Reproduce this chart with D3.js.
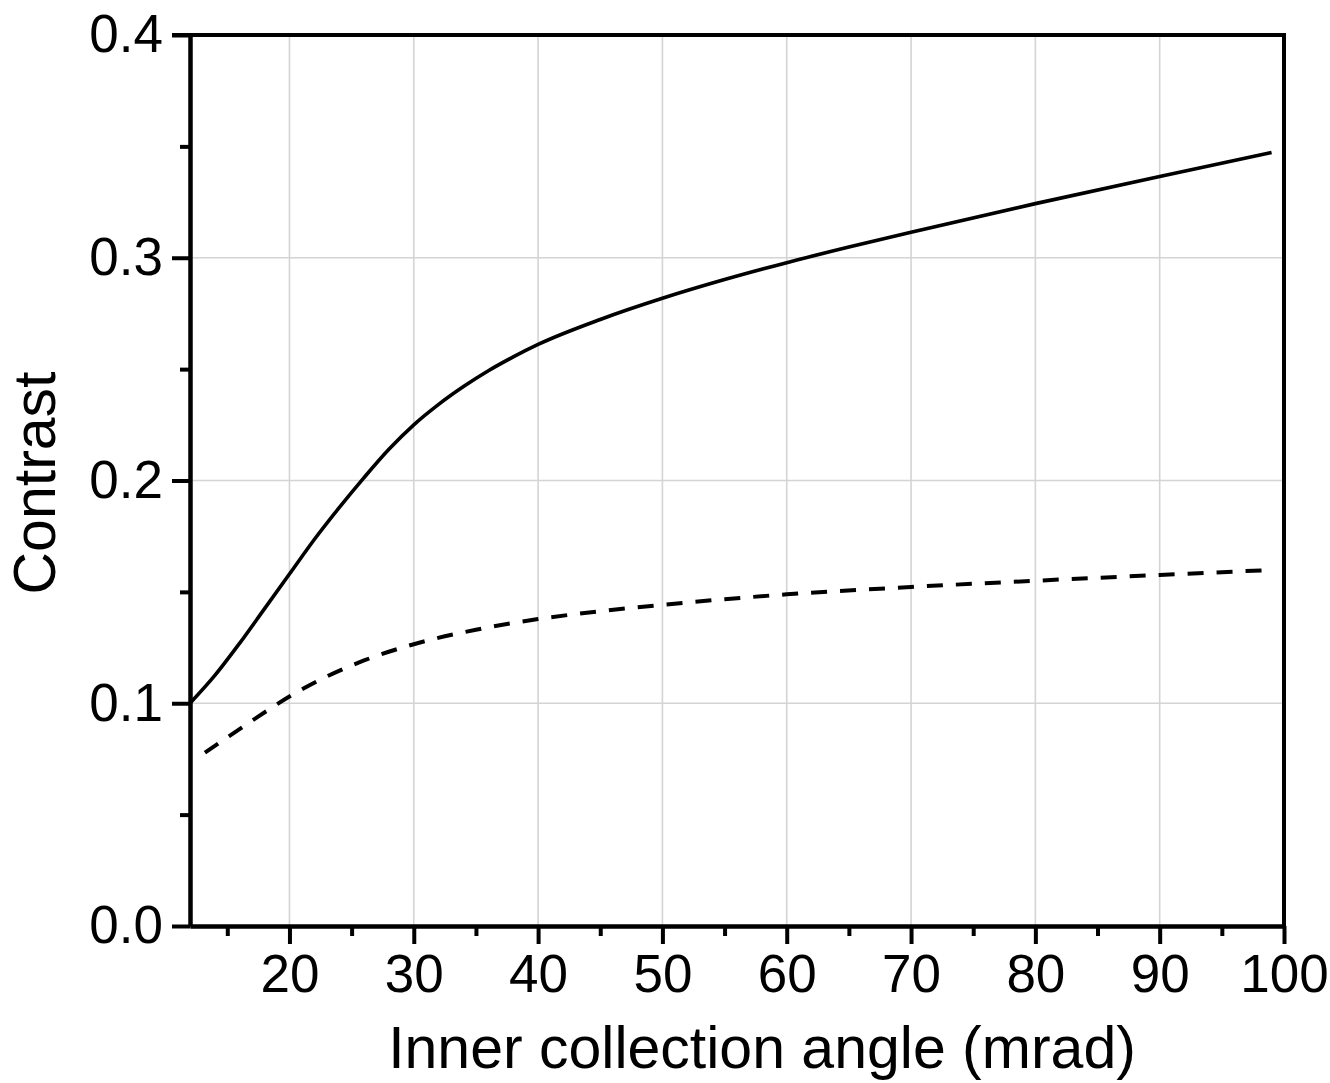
<!DOCTYPE html>
<html><head><meta charset="utf-8">
<script src="https://cdn.jsdelivr.net/npm/d3@7"></script>
<style>body{margin:0;background:#fff}</style>
</head><body>
<script>
const solidX = [12, 14, 16, 18, 20, 22, 24, 26, 28, 30, 32, 34, 36, 38, 40, 45, 50, 55, 60, 65, 70, 80, 90, 99];
const solidY = [0.100, 0.1125, 0.127, 0.1425, 0.158, 0.1735, 0.1878, 0.2013, 0.2140, 0.2250, 0.2342, 0.2422, 0.2493, 0.2555, 0.2611, 0.2723, 0.2818, 0.2902, 0.2978, 0.3048, 0.3115, 0.3243, 0.3365, 0.3472];
const dashX = [13.2, 15, 17, 20, 23, 26, 30, 35, 40, 45, 50, 55, 60, 70, 80, 90, 98.8];
const dashY = [0.0778, 0.0847, 0.0922, 0.1030, 0.1120, 0.1192, 0.1265, 0.1330, 0.1378, 0.1413, 0.1442, 0.1467, 0.1489, 0.1522, 0.1550, 0.1576, 0.1598];
const xTicks = [20, 30, 40, 50, 60, 70, 80, 90, 100];
const xMinor = [15, 25, 35, 45, 55, 65, 75, 85, 95];
const yTicks = [0.0, 0.1, 0.2, 0.3, 0.4];
const yMinor = [0.05, 0.15, 0.25, 0.35];
const xLabel = "Inner collection angle (mrad)";
const yLabel = "Contrast";

const W = 1330, H = 1083;
const L = 190, R = 1284, T = 35, B = 926;
const font = "'Liberation Sans', Arial, sans-serif";

const svg = d3.select("body").append("svg").attr("width", W).attr("height", H);
const x = d3.scaleLinear().domain([12, 100]).range([L, R]);
const y = d3.scaleLinear().domain([0, 0.4]).range([B, T]);

// grid
svg.append("g").selectAll("line").data(xTicks.filter(d => d < 100)).join("line")
  .attr("x1", d => x(d)).attr("x2", d => x(d)).attr("y1", T).attr("y2", B)
  .attr("stroke", "#d4d4d4").attr("stroke-width", 1.6);
svg.append("g").selectAll("line").data(yTicks.filter(d => d > 0 && d < 0.4)).join("line")
  .attr("y1", d => y(d)).attr("y2", d => y(d)).attr("x1", L).attr("x2", R)
  .attr("stroke", "#d4d4d4").attr("stroke-width", 1.6);

// curves
const line = d3.line().x(d => x(d[0])).y(d => y(d[1])).curve(d3.curveMonotoneX);
svg.append("path").datum(solidX.map((v, i) => [v, solidY[i]]))
  .attr("d", line).attr("fill", "none").attr("stroke", "#000").attr("stroke-width", 3.6);
svg.append("path").datum(dashX.map((v, i) => [v, dashY[i]]))
  .attr("d", line).attr("fill", "none").attr("stroke", "#000").attr("stroke-width", 4)
  .attr("stroke-dasharray", "16,13");

// axes
const xAxis = d3.axisBottom(x).tickValues(xTicks).tickSize(18).tickSizeOuter(0).tickPadding(10).tickFormat(d3.format("d"));
const gx = svg.append("g").attr("transform", `translate(0,${B})`).call(xAxis);
const xAxisMinor = d3.axisBottom(x).tickValues(xMinor).tickSize(10).tickSizeOuter(0).tickFormat("");
const gxm = svg.append("g").attr("transform", `translate(0,${B})`).call(xAxisMinor);
const yAxis = d3.axisLeft(y).tickValues(yTicks).tickSize(18).tickSizeOuter(0).tickPadding(9).tickFormat(d3.format(".1f"));
const gy = svg.append("g").attr("transform", `translate(${L},0)`).call(yAxis);
const yAxisMinor = d3.axisLeft(y).tickValues(yMinor).tickSize(10).tickSizeOuter(0).tickFormat("");
const gym = svg.append("g").attr("transform", `translate(${L},0)`).call(yAxisMinor);

[gx, gxm, gy, gym].forEach(g => {
  g.selectAll("path.domain").attr("stroke", "#000").attr("stroke-width", 4);
  g.selectAll(".tick line").attr("stroke", "#000").attr("stroke-width", 4);
  g.selectAll("text").attr("font-family", font).attr("font-size", 53).attr("fill", "#000");
});
gx.selectAll("text").attr("dy", "0.71em");

// top and right border
svg.append("line").attr("x1", L - 18).attr("x2", R + 2).attr("y1", T).attr("y2", T)
  .attr("stroke", "#000").attr("stroke-width", 4);
svg.append("line").attr("x1", R).attr("x2", R).attr("y1", T).attr("y2", B)
  .attr("stroke", "#000").attr("stroke-width", 4);

// titles
svg.append("text").attr("x", 762).attr("y", 1068).attr("text-anchor", "middle")
  .attr("font-family", font).attr("font-size", 59).text(xLabel);
svg.append("text").attr("transform", `translate(55,${483}) rotate(-90)`).attr("text-anchor", "middle")
  .attr("font-family", font).attr("font-size", 59).text(yLabel);
</script>
</body></html>
